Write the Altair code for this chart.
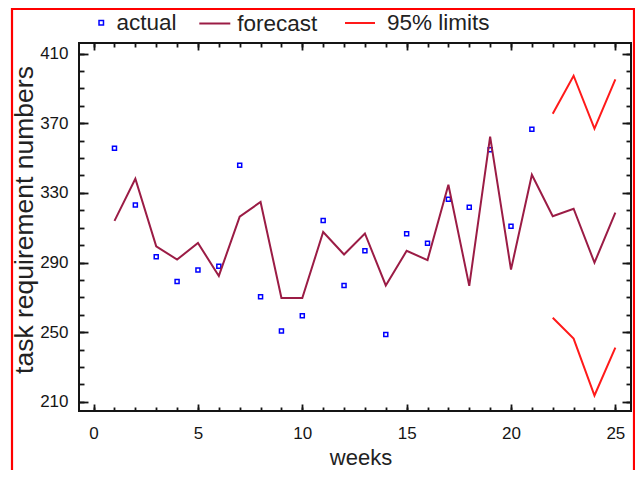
import altair as alt
import pandas as pd

# ---- data ----
weeks_actual = list(range(1, 22))
actual = [355.7, 323.0, 293.3, 279.1, 285.7, 287.9, 345.9, 270.3, 250.7, 259.4,
          314.1, 276.8, 296.7, 248.6, 306.5, 301.0, 326.4, 321.8, 354.8, 310.9, 366.5]
weeks_forecast = list(range(1, 26))
forecast = [313.9, 338.1, 299.3, 291.7, 301.2, 282.3, 316.3, 324.8, 269.6, 269.6,
            307.5, 294.6, 306.7, 276.8, 296.7, 291.4, 334.7, 276.6, 362.3, 285.9,
            340.4, 316.6, 320.9, 289.9, 318.6]
weeks_limits = [22, 23, 24, 25]
upper = [375.4, 397.3, 366.9, 395.2]
lower = [258.3, 246.3, 213.6, 241.1]

series_names = ["actual", "forecast", "95% limits"]
x_major = [0, 5, 10, 15, 20, 25]
x_minor = list(range(0, 26))
y_major = [210, 250, 290, 330, 370, 410]
y_minor = list(range(210, 411, 10))

SANS = "Liberation Sans, Arial, sans-serif"
INK = "#151515"

df_act = pd.DataFrame({"week": weeks_actual, "value": actual, "s": series_names[0]})
df_fc = pd.DataFrame({"week": weeks_forecast, "value": forecast, "s": series_names[1]})
df_up = pd.DataFrame({"week": weeks_limits, "value": upper, "s": series_names[2]})
df_lo = pd.DataFrame({"week": weeks_limits, "value": lower, "s": series_names[2]})

xs = alt.Scale(domain=[-0.7, 25.75], nice=False, zero=False)
ys = alt.Scale(domain=[204.7, 416.1], nice=False, zero=False)


def axis(orient, values, size, **kw):
    base = dict(orient=orient, values=values, tickSize=size, offset=-size,
                domain=False, grid=False, tickColor=INK, tickWidth=1.8)
    base.update(kw)
    if "labels" not in kw:
        base["labels"] = False
    if "title" not in kw:
        base["title"] = None
    return alt.Axis(**base)


x_bottom_major = axis("bottom", x_major, 7, labels=True, labelFont=SANS, labelFontSize=17,
                      labelColor=INK, labelPadding=14, title="weeks", titleFont=SANS,
                      titleFontSize=22, titleFontWeight="normal", titleColor="#222",
                      titleX=281.5, titleY=60, titleAlign="center", titleBaseline="alphabetic")
y_left_major = axis("left", y_major, 9, labels=True, labelFont=SANS, labelFontSize=17,
                    labelColor=INK, labelPadding=11, title="task requirement numbers",
                    titleFont=SANS, titleFontSize=26.5, titleFontWeight="normal", titleColor="#222",
                    titleAngle=270, titleX=-56, titleY=176.5, titleAlign="center",
                    titleBaseline="alphabetic")
x_bottom_minor = axis("bottom", x_minor, 4)
y_left_minor = axis("left", y_minor, 5)
x_top_major = axis("top", x_major, 7)
y_right_major = axis("right", y_major, 9)
x_top_minor = axis("top", x_minor, 4)
y_right_minor = axis("right", y_minor, 5)

leg_common = dict(orient="none", title=None, labelFont=SANS,
                  labelFontSize=22.5, labelColor="#222")

points = alt.Chart(df_act).mark_point(filled=False, size=16, strokeWidth=1.5,
                                      color="#0000ff", opacity=1).encode(
    x=alt.X("week:Q", scale=xs, axis=x_bottom_major),
    y=alt.Y("value:Q", scale=ys, axis=y_left_major),
    shape=alt.Shape("s:N", scale=alt.Scale(domain=[series_names[0]], range=["square"]),
                    legend=alt.Legend(legendX=11, legendY=-31.5, labelOffset=4, symbolSize=20,
                                      symbolStrokeColor="#0000ff", symbolFillColor="#ffffff",
                                      symbolStrokeWidth=1.5, **leg_common)),
)

fc = alt.Chart(df_fc).mark_line(strokeWidth=2).encode(
    x=alt.X("week:Q", scale=xs, axis=x_bottom_minor),
    y=alt.Y("value:Q", scale=ys, axis=y_left_minor),
    stroke=alt.Stroke("s:N", scale=alt.Scale(domain=[series_names[1]], range=["#9b1c45"]),
                      legend=alt.Legend(legendX=119.3, legendY=-36, labelOffset=6,
                                        symbolType="stroke", symbolSize=961,
                                        symbolStrokeWidth=2, **leg_common)),
)

lim_scale = alt.Scale(domain=[series_names[2]], range=["#ff1a1a"])
lim_legend = alt.Legend(legendX=265, legendY=-36, labelOffset=11, symbolType="stroke",
                        symbolSize=900, symbolStrokeWidth=2, **leg_common)

up = alt.Chart(df_up).mark_line(strokeWidth=2).encode(
    x=alt.X("week:Q", scale=xs, axis=x_top_major),
    y=alt.Y("value:Q", scale=ys, axis=y_right_major),
    color=alt.Color("s:N", scale=lim_scale, legend=lim_legend),
)

lo = alt.Chart(df_lo).mark_line(strokeWidth=2).encode(
    x=alt.X("week:Q", scale=xs, axis=x_top_minor),
    y=alt.Y("value:Q", scale=ys, axis=y_right_minor),
    color=alt.Color("s:N", scale=lim_scale, legend=lim_legend),
)

frame = alt.Chart(alt.Data(values=[{"f": 1}])).mark_rect(
    fillOpacity=0, stroke="#ff0000", strokeWidth=2.2
).encode(x=alt.value(-67), x2=alt.value(555), y=alt.value(-34), y2=alt.value(520))

chart = alt.layer(frame, points, fc, up, lo).resolve_axis(
    x="independent", y="independent"
).properties(
    width=552, height=368,
    autosize=alt.AutoSizeParams(type="none"),
    padding={"left": 71, "top": 35, "right": 4, "bottom": 59},
    background="white",
).configure_view(stroke=INK, strokeWidth=2)

chart.save("out.html", embed_options={"renderer": "svg", "actions": False})
